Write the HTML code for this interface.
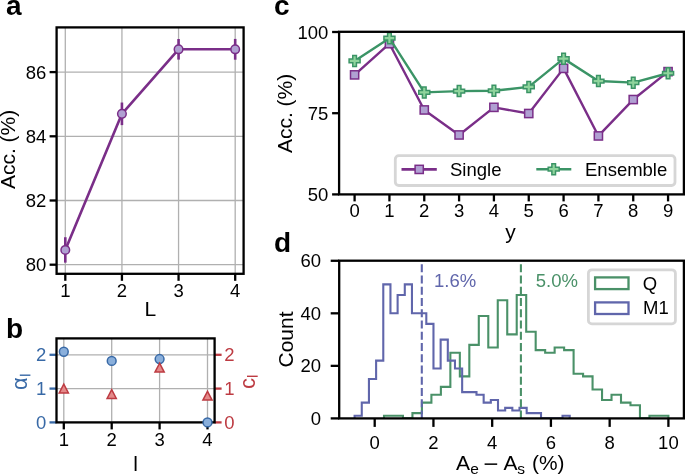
<!DOCTYPE html>
<html><head><meta charset="utf-8"><style>
html,body{margin:0;padding:0;background:#fff;}
svg{display:block;font-family:"Liberation Sans", sans-serif;}
svg{will-change:transform;}
</style></head><body>
<svg width="685" height="474" viewBox="0 0 685 474">
<rect width="685" height="474" fill="#fff"/>
<line x1="65.30" y1="27.40" x2="65.30" y2="273.80" stroke="#b0b0b0" stroke-width="1.3" />
<line x1="121.93" y1="27.40" x2="121.93" y2="273.80" stroke="#b0b0b0" stroke-width="1.3" />
<line x1="178.56" y1="27.40" x2="178.56" y2="273.80" stroke="#b0b0b0" stroke-width="1.3" />
<line x1="235.19" y1="27.40" x2="235.19" y2="273.80" stroke="#b0b0b0" stroke-width="1.3" />
<line x1="56.60" y1="264.70" x2="243.60" y2="264.70" stroke="#b0b0b0" stroke-width="1.3" />
<line x1="56.60" y1="200.50" x2="243.60" y2="200.50" stroke="#b0b0b0" stroke-width="1.3" />
<line x1="56.60" y1="136.30" x2="243.60" y2="136.30" stroke="#b0b0b0" stroke-width="1.3" />
<line x1="56.60" y1="72.10" x2="243.60" y2="72.10" stroke="#b0b0b0" stroke-width="1.3" />
<line x1="65.30" y1="273.80" x2="65.30" y2="280.80" stroke="#000" stroke-width="2.3" />
<text x="65.30" y="297.20" font-size="18.5" text-anchor="middle" fill="#000" font-weight="normal" >1</text>
<line x1="121.93" y1="273.80" x2="121.93" y2="280.80" stroke="#000" stroke-width="2.3" />
<text x="121.93" y="297.20" font-size="18.5" text-anchor="middle" fill="#000" font-weight="normal" >2</text>
<line x1="178.56" y1="273.80" x2="178.56" y2="280.80" stroke="#000" stroke-width="2.3" />
<text x="178.56" y="297.20" font-size="18.5" text-anchor="middle" fill="#000" font-weight="normal" >3</text>
<line x1="235.19" y1="273.80" x2="235.19" y2="280.80" stroke="#000" stroke-width="2.3" />
<text x="235.19" y="297.20" font-size="18.5" text-anchor="middle" fill="#000" font-weight="normal" >4</text>
<line x1="49.60" y1="264.70" x2="56.60" y2="264.70" stroke="#000" stroke-width="2.3" />
<text x="46.40" y="271.30" font-size="18.5" text-anchor="end" fill="#000" font-weight="normal" >80</text>
<line x1="49.60" y1="200.50" x2="56.60" y2="200.50" stroke="#000" stroke-width="2.3" />
<text x="46.40" y="207.10" font-size="18.5" text-anchor="end" fill="#000" font-weight="normal" >82</text>
<line x1="49.60" y1="136.30" x2="56.60" y2="136.30" stroke="#000" stroke-width="2.3" />
<text x="46.40" y="142.90" font-size="18.5" text-anchor="end" fill="#000" font-weight="normal" >84</text>
<line x1="49.60" y1="72.10" x2="56.60" y2="72.10" stroke="#000" stroke-width="2.3" />
<text x="46.40" y="78.70" font-size="18.5" text-anchor="end" fill="#000" font-weight="normal" >86</text>
<polyline points="65.30,249.93 121.93,113.83 178.56,49.31 235.19,49.31" fill="none" stroke="#7a2e88" stroke-width="2.6" stroke-linejoin="round"/>
<line x1="65.30" y1="237.23" x2="65.30" y2="262.63" stroke="#7a2e88" stroke-width="2.6" />
<line x1="121.93" y1="102.53" x2="121.93" y2="125.13" stroke="#7a2e88" stroke-width="2.6" />
<line x1="178.56" y1="39.01" x2="178.56" y2="59.61" stroke="#7a2e88" stroke-width="2.6" />
<line x1="235.19" y1="38.91" x2="235.19" y2="59.71" stroke="#7a2e88" stroke-width="2.6" />
<circle cx="65.30" cy="249.93" r="4.3" fill="#b0a0d2" stroke="#7a2e88" stroke-width="1.5"/>
<circle cx="121.93" cy="113.83" r="4.3" fill="#b0a0d2" stroke="#7a2e88" stroke-width="1.5"/>
<circle cx="178.56" cy="49.31" r="4.3" fill="#b0a0d2" stroke="#7a2e88" stroke-width="1.5"/>
<circle cx="235.19" cy="49.31" r="4.3" fill="#b0a0d2" stroke="#7a2e88" stroke-width="1.5"/>
<rect x="56.60" y="27.40" width="187.00" height="246.40" fill="none" stroke="#000" stroke-width="2.3" stroke-linejoin="miter"/>
<text x="150.30" y="315.50" font-size="21" text-anchor="middle" fill="#000" font-weight="normal" >L</text>
<text transform="translate(15.20,149.40) rotate(-90)" x="0" y="0" font-size="21" text-anchor="middle" fill="#000">Acc. (%)</text>
<text x="6.00" y="15.30" font-size="28" text-anchor="start" fill="#000" font-weight="bold" >a</text>
<line x1="63.80" y1="338.40" x2="63.80" y2="422.40" stroke="#b0b0b0" stroke-width="1.3" />
<line x1="111.70" y1="338.40" x2="111.70" y2="422.40" stroke="#b0b0b0" stroke-width="1.3" />
<line x1="159.60" y1="338.40" x2="159.60" y2="422.40" stroke="#b0b0b0" stroke-width="1.3" />
<line x1="207.50" y1="338.40" x2="207.50" y2="422.40" stroke="#b0b0b0" stroke-width="1.3" />
<line x1="56.50" y1="422.40" x2="214.60" y2="422.40" stroke="#b0b0b0" stroke-width="1.3" />
<line x1="56.50" y1="388.60" x2="214.60" y2="388.60" stroke="#b0b0b0" stroke-width="1.3" />
<line x1="56.50" y1="354.80" x2="214.60" y2="354.80" stroke="#b0b0b0" stroke-width="1.3" />
<line x1="63.80" y1="422.40" x2="63.80" y2="429.40" stroke="#000" stroke-width="2.3" />
<text x="63.80" y="445.60" font-size="18.5" text-anchor="middle" fill="#000" font-weight="normal" >1</text>
<line x1="111.70" y1="422.40" x2="111.70" y2="429.40" stroke="#000" stroke-width="2.3" />
<text x="111.70" y="445.60" font-size="18.5" text-anchor="middle" fill="#000" font-weight="normal" >2</text>
<line x1="159.60" y1="422.40" x2="159.60" y2="429.40" stroke="#000" stroke-width="2.3" />
<text x="159.60" y="445.60" font-size="18.5" text-anchor="middle" fill="#000" font-weight="normal" >3</text>
<line x1="207.50" y1="422.40" x2="207.50" y2="429.40" stroke="#000" stroke-width="2.3" />
<text x="207.50" y="445.60" font-size="18.5" text-anchor="middle" fill="#000" font-weight="normal" >4</text>
<line x1="49.50" y1="422.40" x2="56.50" y2="422.40" stroke="#3869a6" stroke-width="2.3" />
<text x="46.30" y="429.00" font-size="18.5" text-anchor="end" fill="#3869a6" font-weight="normal" >0</text>
<line x1="214.60" y1="422.40" x2="221.60" y2="422.40" stroke="#bd3b42" stroke-width="2.3" />
<text x="224.20" y="429.00" font-size="18.5" text-anchor="start" fill="#bd3b42" font-weight="normal" >0</text>
<line x1="49.50" y1="388.60" x2="56.50" y2="388.60" stroke="#3869a6" stroke-width="2.3" />
<text x="46.30" y="395.20" font-size="18.5" text-anchor="end" fill="#3869a6" font-weight="normal" >1</text>
<line x1="214.60" y1="388.60" x2="221.60" y2="388.60" stroke="#bd3b42" stroke-width="2.3" />
<text x="224.20" y="395.20" font-size="18.5" text-anchor="start" fill="#bd3b42" font-weight="normal" >1</text>
<line x1="49.50" y1="354.80" x2="56.50" y2="354.80" stroke="#3869a6" stroke-width="2.3" />
<text x="46.30" y="361.40" font-size="18.5" text-anchor="end" fill="#3869a6" font-weight="normal" >2</text>
<line x1="214.60" y1="354.80" x2="221.60" y2="354.80" stroke="#bd3b42" stroke-width="2.3" />
<text x="224.20" y="361.40" font-size="18.5" text-anchor="start" fill="#bd3b42" font-weight="normal" >2</text>
<rect x="56.50" y="338.40" width="158.10" height="84.00" fill="none" stroke="#000" stroke-width="2.3" stroke-linejoin="miter"/>
<circle cx="63.80" cy="351.76" r="4.4" fill="#8aafdb" stroke="#3869a6" stroke-width="1.5"/>
<circle cx="111.70" cy="360.88" r="4.4" fill="#8aafdb" stroke="#3869a6" stroke-width="1.5"/>
<circle cx="159.60" cy="359.02" r="4.4" fill="#8aafdb" stroke="#3869a6" stroke-width="1.5"/>
<circle cx="207.50" cy="422.40" r="4.4" fill="#8aafdb" stroke="#3869a6" stroke-width="1.5"/>
<polygon points="63.80,384.20 59.20,393.00 68.40,393.00" fill="#e48a8a" stroke="#bd3b42" stroke-width="1.5" stroke-linejoin="miter"/>
<polygon points="111.70,389.61 107.10,398.41 116.30,398.41" fill="#e48a8a" stroke="#bd3b42" stroke-width="1.5" stroke-linejoin="miter"/>
<polygon points="159.60,363.24 155.00,372.04 164.20,372.04" fill="#e48a8a" stroke="#bd3b42" stroke-width="1.5" stroke-linejoin="miter"/>
<polygon points="207.50,391.30 202.90,400.10 212.10,400.10" fill="#e48a8a" stroke="#bd3b42" stroke-width="1.5" stroke-linejoin="miter"/>
<text x="135.60" y="470.90" font-size="21" text-anchor="middle" fill="#000" font-weight="normal" >l</text>
<text x="6.00" y="338.20" font-size="28" text-anchor="start" fill="#000" font-weight="bold" >b</text>
<text transform="translate(27.1,390.1) rotate(-90)" x="0" y="0" font-size="22" fill="#3869a6">α</text>
<rect x="19.8" y="374.5" width="10.6" height="1.4" fill="#3869a6"/>
<text transform="translate(255.2,388.9) rotate(-90)" x="0" y="0" font-size="22" fill="#bd3b42">c</text>
<rect x="247.0" y="375.6" width="10.7" height="1.4" fill="#bd3b42"/>
<line x1="354.60" y1="194.40" x2="354.60" y2="201.40" stroke="#000" stroke-width="2.3" />
<text x="354.60" y="217.20" font-size="18.5" text-anchor="middle" fill="#000" font-weight="normal" >0</text>
<line x1="389.43" y1="194.40" x2="389.43" y2="201.40" stroke="#000" stroke-width="2.3" />
<text x="389.43" y="217.20" font-size="18.5" text-anchor="middle" fill="#000" font-weight="normal" >1</text>
<line x1="424.26" y1="194.40" x2="424.26" y2="201.40" stroke="#000" stroke-width="2.3" />
<text x="424.26" y="217.20" font-size="18.5" text-anchor="middle" fill="#000" font-weight="normal" >2</text>
<line x1="459.09" y1="194.40" x2="459.09" y2="201.40" stroke="#000" stroke-width="2.3" />
<text x="459.09" y="217.20" font-size="18.5" text-anchor="middle" fill="#000" font-weight="normal" >3</text>
<line x1="493.92" y1="194.40" x2="493.92" y2="201.40" stroke="#000" stroke-width="2.3" />
<text x="493.92" y="217.20" font-size="18.5" text-anchor="middle" fill="#000" font-weight="normal" >4</text>
<line x1="528.75" y1="194.40" x2="528.75" y2="201.40" stroke="#000" stroke-width="2.3" />
<text x="528.75" y="217.20" font-size="18.5" text-anchor="middle" fill="#000" font-weight="normal" >5</text>
<line x1="563.58" y1="194.40" x2="563.58" y2="201.40" stroke="#000" stroke-width="2.3" />
<text x="563.58" y="217.20" font-size="18.5" text-anchor="middle" fill="#000" font-weight="normal" >6</text>
<line x1="598.41" y1="194.40" x2="598.41" y2="201.40" stroke="#000" stroke-width="2.3" />
<text x="598.41" y="217.20" font-size="18.5" text-anchor="middle" fill="#000" font-weight="normal" >7</text>
<line x1="633.24" y1="194.40" x2="633.24" y2="201.40" stroke="#000" stroke-width="2.3" />
<text x="633.24" y="217.20" font-size="18.5" text-anchor="middle" fill="#000" font-weight="normal" >8</text>
<line x1="668.07" y1="194.40" x2="668.07" y2="201.40" stroke="#000" stroke-width="2.3" />
<text x="668.07" y="217.20" font-size="18.5" text-anchor="middle" fill="#000" font-weight="normal" >9</text>
<line x1="332.10" y1="194.40" x2="339.10" y2="194.40" stroke="#000" stroke-width="2.3" />
<text x="328.30" y="201.00" font-size="18.5" text-anchor="end" fill="#000" font-weight="normal" >50</text>
<line x1="332.10" y1="113.20" x2="339.10" y2="113.20" stroke="#000" stroke-width="2.3" />
<text x="328.30" y="119.80" font-size="18.5" text-anchor="end" fill="#000" font-weight="normal" >75</text>
<line x1="332.10" y1="32.00" x2="339.10" y2="32.00" stroke="#000" stroke-width="2.3" />
<text x="328.30" y="38.60" font-size="18.5" text-anchor="end" fill="#000" font-weight="normal" >100</text>
<polyline points="354.60,74.87 389.43,43.69 424.26,109.95 459.09,134.96 493.92,107.35 528.75,113.52 563.58,68.38 598.41,135.94 633.24,99.56 668.07,71.63" fill="none" stroke="#7a2e88" stroke-width="2.4" stroke-linejoin="round"/>
<rect x="350.50" y="70.77" width="8.2" height="8.2" fill="#b0a0d2" stroke="#7a2e88" stroke-width="1.5"/>
<rect x="385.33" y="39.59" width="8.2" height="8.2" fill="#b0a0d2" stroke="#7a2e88" stroke-width="1.5"/>
<rect x="420.16" y="105.85" width="8.2" height="8.2" fill="#b0a0d2" stroke="#7a2e88" stroke-width="1.5"/>
<rect x="454.99" y="130.86" width="8.2" height="8.2" fill="#b0a0d2" stroke="#7a2e88" stroke-width="1.5"/>
<rect x="489.82" y="103.25" width="8.2" height="8.2" fill="#b0a0d2" stroke="#7a2e88" stroke-width="1.5"/>
<rect x="524.65" y="109.42" width="8.2" height="8.2" fill="#b0a0d2" stroke="#7a2e88" stroke-width="1.5"/>
<rect x="559.48" y="64.28" width="8.2" height="8.2" fill="#b0a0d2" stroke="#7a2e88" stroke-width="1.5"/>
<rect x="594.31" y="131.84" width="8.2" height="8.2" fill="#b0a0d2" stroke="#7a2e88" stroke-width="1.5"/>
<rect x="629.14" y="95.46" width="8.2" height="8.2" fill="#b0a0d2" stroke="#7a2e88" stroke-width="1.5"/>
<rect x="663.97" y="67.53" width="8.2" height="8.2" fill="#b0a0d2" stroke="#7a2e88" stroke-width="1.5"/>
<polyline points="354.60,60.91 389.43,38.17 424.26,92.41 459.09,91.11 493.92,90.79 528.75,86.89 563.58,58.63 598.41,81.04 633.24,82.67 668.07,73.25" fill="none" stroke="#3b9466" stroke-width="2.4" stroke-linejoin="round"/>
<polygon points="352.77,55.41 356.43,55.41 356.43,59.07 360.10,59.07 360.10,62.74 356.43,62.74 356.43,66.41 352.77,66.41 352.77,62.74 349.10,62.74 349.10,59.07 352.77,59.07" fill="#8fd49c" stroke="#3b9466" stroke-width="1.5" stroke-linejoin="miter"/>
<polygon points="387.60,32.67 391.26,32.67 391.26,36.34 394.93,36.34 394.93,40.00 391.26,40.00 391.26,43.67 387.60,43.67 387.60,40.00 383.93,40.00 383.93,36.34 387.60,36.34" fill="#8fd49c" stroke="#3b9466" stroke-width="1.5" stroke-linejoin="miter"/>
<polygon points="422.43,86.91 426.09,86.91 426.09,90.58 429.76,90.58 429.76,94.25 426.09,94.25 426.09,97.91 422.43,97.91 422.43,94.25 418.76,94.25 418.76,90.58 422.43,90.58" fill="#8fd49c" stroke="#3b9466" stroke-width="1.5" stroke-linejoin="miter"/>
<polygon points="457.26,85.61 460.92,85.61 460.92,89.28 464.59,89.28 464.59,92.95 460.92,92.95 460.92,96.61 457.26,96.61 457.26,92.95 453.59,92.95 453.59,89.28 457.26,89.28" fill="#8fd49c" stroke="#3b9466" stroke-width="1.5" stroke-linejoin="miter"/>
<polygon points="492.09,85.29 495.75,85.29 495.75,88.96 499.42,88.96 499.42,92.62 495.75,92.62 495.75,96.29 492.09,96.29 492.09,92.62 488.42,92.62 488.42,88.96 492.09,88.96" fill="#8fd49c" stroke="#3b9466" stroke-width="1.5" stroke-linejoin="miter"/>
<polygon points="526.92,81.39 530.58,81.39 530.58,85.06 534.25,85.06 534.25,88.72 530.58,88.72 530.58,92.39 526.92,92.39 526.92,88.72 523.25,88.72 523.25,85.06 526.92,85.06" fill="#8fd49c" stroke="#3b9466" stroke-width="1.5" stroke-linejoin="miter"/>
<polygon points="561.75,53.13 565.41,53.13 565.41,56.80 569.08,56.80 569.08,60.47 565.41,60.47 565.41,64.13 561.75,64.13 561.75,60.47 558.08,60.47 558.08,56.80 561.75,56.80" fill="#8fd49c" stroke="#3b9466" stroke-width="1.5" stroke-linejoin="miter"/>
<polygon points="596.58,75.54 600.24,75.54 600.24,79.21 603.91,79.21 603.91,82.88 600.24,82.88 600.24,86.54 596.58,86.54 596.58,82.88 592.91,82.88 592.91,79.21 596.58,79.21" fill="#8fd49c" stroke="#3b9466" stroke-width="1.5" stroke-linejoin="miter"/>
<polygon points="631.41,77.17 635.07,77.17 635.07,80.84 638.74,80.84 638.74,84.50 635.07,84.50 635.07,88.17 631.41,88.17 631.41,84.50 627.74,84.50 627.74,80.84 631.41,80.84" fill="#8fd49c" stroke="#3b9466" stroke-width="1.5" stroke-linejoin="miter"/>
<polygon points="666.24,67.75 669.90,67.75 669.90,71.42 673.57,71.42 673.57,75.08 669.90,75.08 669.90,78.75 666.24,78.75 666.24,75.08 662.57,75.08 662.57,71.42 666.24,71.42" fill="#8fd49c" stroke="#3b9466" stroke-width="1.5" stroke-linejoin="miter"/>
<rect x="395.3" y="155.7" width="279.7" height="29.8" rx="3.5" ry="3.5" fill="#fff" fill-opacity="0.8" stroke="#d6d6d6" stroke-width="2.8"/>
<line x1="401.50" y1="169.40" x2="436.80" y2="169.40" stroke="#7a2e88" stroke-width="2.6" />
<rect x="415.10" y="165.30" width="8.2" height="8.2" fill="#b0a0d2" stroke="#7a2e88" stroke-width="1.5"/>
<text x="450.00" y="175.60" font-size="18.5" text-anchor="start" fill="#000" font-weight="normal" >Single</text>
<line x1="536.30" y1="169.20" x2="571.30" y2="169.20" stroke="#3b9466" stroke-width="2.6" />
<polygon points="551.87,163.70 555.53,163.70 555.53,167.37 559.20,167.37 559.20,171.03 555.53,171.03 555.53,174.70 551.87,174.70 551.87,171.03 548.20,171.03 548.20,167.37 551.87,167.37" fill="#8fd49c" stroke="#3b9466" stroke-width="1.5" stroke-linejoin="miter"/>
<text x="585.00" y="175.60" font-size="18.5" text-anchor="start" fill="#000" font-weight="normal" >Ensemble</text>
<rect x="339.10" y="31.80" width="344.80" height="162.60" fill="none" stroke="#000" stroke-width="2.3" stroke-linejoin="miter"/>
<text x="510.50" y="238.60" font-size="21" text-anchor="middle" fill="#000" font-weight="normal" >y</text>
<text transform="translate(292.10,113.40) rotate(-90)" x="0" y="0" font-size="21" text-anchor="middle" fill="#000">Acc. (%)</text>
<text x="274.00" y="15.30" font-size="28" text-anchor="start" fill="#000" font-weight="bold" >c</text>
<clipPath id="dclip"><rect x="339.2" y="260.7" width="344.7" height="157.7"/></clipPath>
<g clip-path="url(#dclip)">
<polyline points="384.00,418.40 384.00,415.77 393.48,415.77 393.48,415.77 402.96,415.77 402.96,418.40 412.44,418.40 412.44,413.15 421.92,413.15 421.92,402.64 431.40,402.64 431.40,394.76 440.88,394.76 440.88,386.88 450.36,386.88 450.36,352.72 459.84,352.72 459.84,376.37 469.32,376.37 469.32,344.84 478.80,344.84 478.80,315.95 488.28,315.95 488.28,347.47 497.76,347.47 497.76,300.19 507.24,300.19 507.24,334.34 516.72,334.34 516.72,294.93 526.20,294.93 526.20,331.71 535.68,331.71 535.68,350.10 545.16,350.10 545.16,352.72 554.64,352.72 554.64,347.47 564.12,347.47 564.12,350.10 573.60,350.10 573.60,373.74 583.08,373.74 583.08,376.37 592.56,376.37 592.56,389.50 602.04,389.50 602.04,400.01 611.52,400.01 611.52,394.76 621.00,394.76 621.00,402.64 630.48,402.64 630.48,405.26 639.96,405.26 639.96,418.40 649.44,418.40 649.44,415.77 658.92,415.77 658.92,415.77 668.40,415.77 668.40,418.40" fill="none" stroke="#4a9168" stroke-width="2.1" stroke-linejoin="miter"/>
<polyline points="354.60,418.40 354.60,415.77 361.77,415.77 361.77,402.64 368.94,402.64 368.94,379.00 376.11,379.00 376.11,360.61 383.28,360.61 383.28,284.42 390.45,284.42 390.45,313.32 397.62,313.32 397.62,294.93 404.79,294.93 404.79,284.42 411.96,284.42 411.96,313.32 419.13,313.32 419.13,313.32 426.30,313.32 426.30,323.83 433.47,323.83 433.47,368.49 440.64,368.49 440.64,339.59 447.81,339.59 447.81,360.61 454.98,360.61 454.98,368.49 462.15,368.49 462.15,392.13 469.32,392.13 469.32,392.13 476.49,392.13 476.49,394.76 483.66,394.76 483.66,402.64 490.83,402.64 490.83,400.01 498.00,400.01 498.00,410.52 505.17,410.52 505.17,407.89 512.34,407.89 512.34,410.52 519.51,410.52 519.51,407.89 526.68,407.89 526.68,413.15 533.85,413.15 533.85,413.15 541.02,413.15 541.02,418.40 548.19,418.40 548.19,418.40 555.36,418.40 555.36,418.40 562.53,418.40 562.53,415.77 569.70,415.77 569.70,418.40" fill="none" stroke="#6066ab" stroke-width="2.1" stroke-linejoin="miter"/>
<line x1="421.80" y1="418.40" x2="421.80" y2="260.70" stroke="#6066ab" stroke-width="2.1" stroke-dasharray="7.8 3.45"/>
<line x1="520.90" y1="418.40" x2="520.90" y2="260.70" stroke="#4a9168" stroke-width="2.1" stroke-dasharray="7.8 3.45"/>
</g>
<text x="434.00" y="287.40" font-size="18.5" text-anchor="start" fill="#6066ab" font-weight="normal" >1.6%</text>
<text x="535.80" y="287.40" font-size="18.5" text-anchor="start" fill="#4a9168" font-weight="normal" >5.0%</text>
<line x1="374.70" y1="418.40" x2="374.70" y2="426.90" stroke="#000" stroke-width="2.3" />
<text x="374.70" y="449.00" font-size="18.5" text-anchor="middle" fill="#000" font-weight="normal" >0</text>
<line x1="433.44" y1="418.40" x2="433.44" y2="426.90" stroke="#000" stroke-width="2.3" />
<text x="433.44" y="449.00" font-size="18.5" text-anchor="middle" fill="#000" font-weight="normal" >2</text>
<line x1="492.18" y1="418.40" x2="492.18" y2="426.90" stroke="#000" stroke-width="2.3" />
<text x="492.18" y="449.00" font-size="18.5" text-anchor="middle" fill="#000" font-weight="normal" >4</text>
<line x1="550.92" y1="418.40" x2="550.92" y2="426.90" stroke="#000" stroke-width="2.3" />
<text x="550.92" y="449.00" font-size="18.5" text-anchor="middle" fill="#000" font-weight="normal" >6</text>
<line x1="609.66" y1="418.40" x2="609.66" y2="426.90" stroke="#000" stroke-width="2.3" />
<text x="609.66" y="449.00" font-size="18.5" text-anchor="middle" fill="#000" font-weight="normal" >8</text>
<line x1="668.40" y1="418.40" x2="668.40" y2="426.90" stroke="#000" stroke-width="2.3" />
<text x="668.40" y="449.00" font-size="18.5" text-anchor="middle" fill="#000" font-weight="normal" >10</text>
<line x1="330.70" y1="418.40" x2="339.20" y2="418.40" stroke="#000" stroke-width="2.3" />
<text x="321.10" y="425.00" font-size="18.5" text-anchor="end" fill="#000" font-weight="normal" >0</text>
<line x1="330.70" y1="365.86" x2="339.20" y2="365.86" stroke="#000" stroke-width="2.3" />
<text x="321.10" y="372.46" font-size="18.5" text-anchor="end" fill="#000" font-weight="normal" >20</text>
<line x1="330.70" y1="313.32" x2="339.20" y2="313.32" stroke="#000" stroke-width="2.3" />
<text x="321.10" y="319.92" font-size="18.5" text-anchor="end" fill="#000" font-weight="normal" >40</text>
<line x1="330.70" y1="260.78" x2="339.20" y2="260.78" stroke="#000" stroke-width="2.3" />
<text x="321.10" y="267.38" font-size="18.5" text-anchor="end" fill="#000" font-weight="normal" >60</text>
<rect x="588.4" y="269.8" width="87.0" height="54.1" rx="3.5" ry="3.5" fill="#fff" fill-opacity="0.8" stroke="#d6d6d6" stroke-width="2.8"/>
<rect x="595.1" y="277.4" width="33.4" height="11.7" fill="none" stroke="#4a9168" stroke-width="2.3"/>
<rect x="595.1" y="302.4" width="33.4" height="11.6" fill="none" stroke="#6066ab" stroke-width="2.3"/>
<text x="642.80" y="290.40" font-size="18.5" text-anchor="start" fill="#000" font-weight="normal" >Q</text>
<text x="643.00" y="314.00" font-size="18.5" text-anchor="start" fill="#000" font-weight="normal" >M1</text>
<rect x="339.20" y="260.70" width="344.70" height="157.70" fill="none" stroke="#000" stroke-width="2.3" stroke-linejoin="miter"/>
<text transform="translate(293.40,339.50) rotate(-90)" x="0" y="0" font-size="21" text-anchor="middle" fill="#000">Count</text>
<text x="456.00" y="470.30" font-size="21" text-anchor="start" fill="#000" font-weight="normal" >A</text>
<text x="470.30" y="473.50" font-size="15.5" text-anchor="start" fill="#000" font-weight="normal" >e</text>
<rect x="484.6" y="463.4" width="12.6" height="1.5" fill="#000"/>
<text x="503.50" y="470.30" font-size="21" text-anchor="start" fill="#000" font-weight="normal" >A</text>
<text x="517.30" y="473.50" font-size="15.5" text-anchor="start" fill="#000" font-weight="normal" >s</text>
<text x="532.00" y="470.30" font-size="21" text-anchor="start" fill="#000" font-weight="normal" textLength="32.5" lengthAdjust="spacingAndGlyphs">(%)</text>
<text x="274.00" y="252.40" font-size="28" text-anchor="start" fill="#000" font-weight="bold" >d</text>
</svg>
</body></html>
